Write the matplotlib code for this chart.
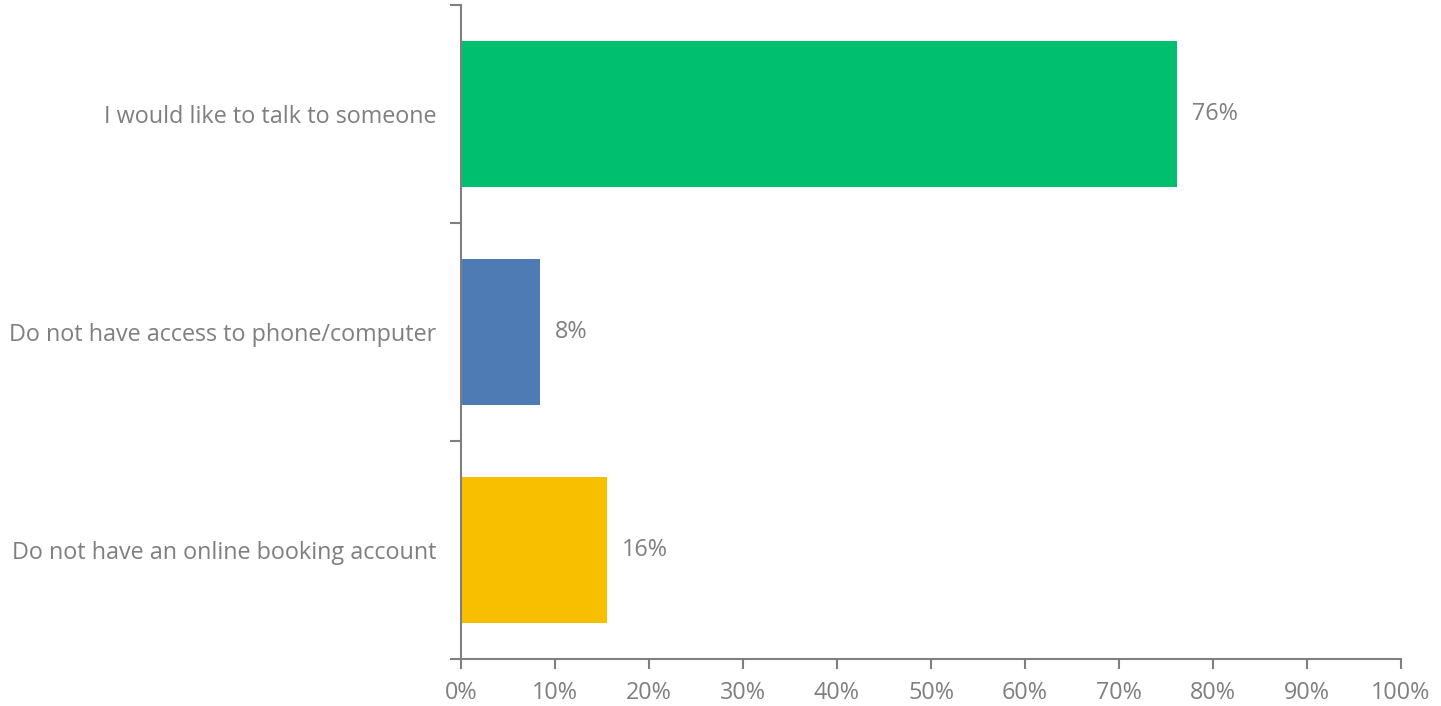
import matplotlib.pyplot as plt
from matplotlib.ticker import FixedLocator, PercentFormatter

categories = ["Do not have an online booking account",
              "Do not have access to phone/computer",
              "I would like to talk to someone"]
values = [15.5, 8.4, 76.2]
labels = ["16%", "8%", "76%"]
colors = ["#F8BE00", "#4F7BB5", "#00BF6F"]

grey = "#7F7F7F"
plt.rcParams['font.family'] = ['Open Sans', 'DejaVu Sans']
fs = 16.8

fig = plt.figure(figsize=(14.41, 7.06), dpi=100)
ax = fig.add_axes([461 / 1441, 1 - 659 / 706, 940 / 1441, 654 / 706])

pos = list(range(len(categories)))
ax.barh(pos, values, height=0.67, color=colors)

for p, v, t in zip(pos, values, labels):
    ax.text(v + 1.6, p, t, va="center", ha="left", fontsize=fs, color=grey)

ax.set_xlim(0, 100)
ax.set_ylim(-0.5, 2.5)
ax.xaxis.set_major_locator(FixedLocator(range(0, 101, 10)))
ax.xaxis.set_major_formatter(PercentFormatter(decimals=0))

ax.set_yticks(pos)
ax.set_yticklabels(categories)
ax.yaxis.set_minor_locator(FixedLocator([-0.5, 0.5, 1.5, 2.5]))
ax.tick_params(axis="y", which="major", length=0, pad=18, labelsize=fs, labelcolor=grey)
ax.tick_params(axis="y", which="minor", length=8, width=1.5, color=grey)
ax.tick_params(axis="x", length=7, width=1.5, color=grey, labelsize=fs, labelcolor=grey, pad=9)

for s in ["top", "right"]:
    ax.spines[s].set_visible(False)
for s in ["left", "bottom"]:
    ax.spines[s].set_color(grey)
    ax.spines[s].set_linewidth(1.5)

fig.savefig("out.png", dpi=100)
